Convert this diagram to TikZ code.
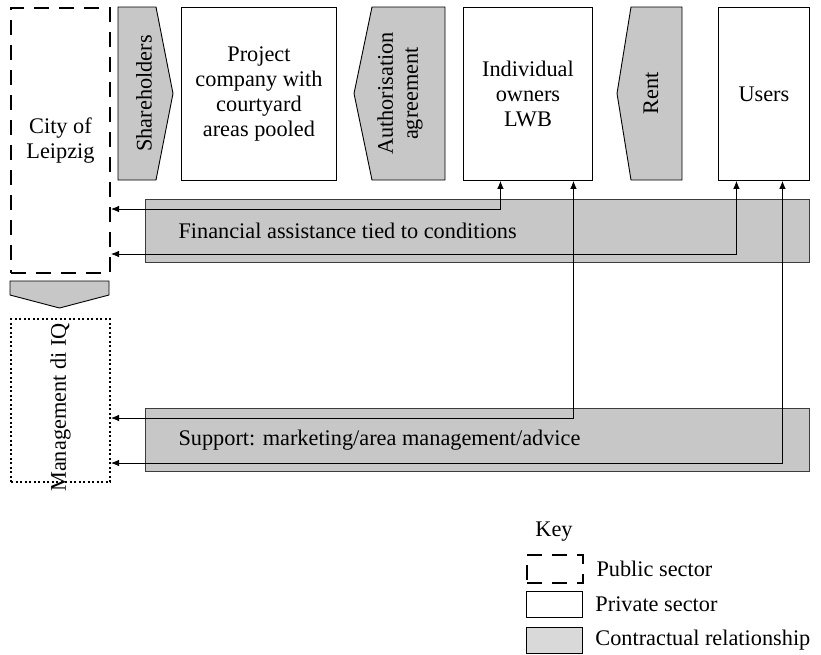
\documentclass[tikz,border=0pt]{standalone}
\usepackage{fontspec}
\setmainfont{Liberation Serif}
\usetikzlibrary{arrows.meta}
\definecolor{contractgray}{RGB}{198,199,198}
\definecolor{keygray}{RGB}{217,217,217}
\definecolor{bandline}{RGB}{60,60,60}
\tikzset{party/.style={draw,line width=.9pt,fill=white,minimum width=#1,minimum height=173pt,inner sep=0pt,align=center,anchor=north west},
  public/.style={draw,line width=2pt,dash pattern=on 15pt off 10pt,inner sep=0pt,align=center,anchor=north west},
  mgmt/.style={draw,line width=2pt,dash pattern=on 2pt off 2.5pt,inner sep=0pt,anchor=north west},
  band/.style={draw=bandline,line width=1.3pt,fill=contractgray,minimum width=664pt,minimum height=63pt,inner sep=0pt,anchor=north west},
  chev/.style={draw,line width=.9pt,fill=contractgray},
  conn/.style={{Latex[length=8pt,width=6.5pt]}-{Latex[length=8pt,width=6.5pt]},line width=.8pt}}

\begin{document}
\begin{tikzpicture}[x=1pt,y=-1pt,font=\fontsize{22.3}{25}\selectfont]
  \path[use as bounding box] (0,0) rectangle (821,654);
  \node[public,minimum width=99pt,minimum height=265pt] (city) at (10,7) {City of\\Leipzig};
  \draw[chev] (10,281) -- (109,281) -- (109,295) -- (59.5,308) -- (10,295) -- cycle;
  \node[mgmt,minimum width=99pt,minimum height=163pt] (iq) at (10,318) {};
  \node[rotate=90] (iqtext) at ([yshift=-7pt]iq.center) {Management di IQ};
  \draw[chev] (118,7) -- (156,7) -- (173,93.5) -- (156,180) -- (118,180) -- cycle;
  \node[rotate=90] (share) at (144,93.5) {Shareholders};
  \node[party=155pt] (proj) at (181,7) {Project\\company with\\courtyard\\areas pooled};
  \draw[chev] (372,7) -- (445,7) -- (445,180) -- (372,180) -- (354,93.5) -- cycle;
  \node[rotate=90,align=center] (auth) at (400,93.5) {Authorisation\\agreement};
  \node[party=129pt] (own) at (463,7) {Individual\\owners\\LWB};
  \draw[chev] (631,7) -- (682,7) -- (682,180) -- (631,180) -- (617,93.5) -- cycle;
  \node[rotate=90] (rent) at (651,93.5) {Rent};
  \node[party=91pt] (users) at (718,7) {Users};
  \node[band] (fin) at (145,199) {};
  \node[anchor=west] (fintext) at ([xshift=30pt]fin.west) {Financial assistance tied to conditions};
  \node[band] (supp) at (145,408) {};
  \node[anchor=west] (supptext) at ([xshift=30pt]supp.west) {Support: marketing/area management/advice};
  \draw[conn] ([xshift=-27.5pt]own.south) |- ([yshift=-68.5pt]city.east);
  \draw[conn] ([xshift=-27.5pt]users.south) |- ([yshift=-113.5pt]city.east);
  \draw[conn] ([xshift=45.5pt]own.south) |- ([yshift=-17.5pt]iq.east);
  \draw[conn] ([xshift=18.5pt]users.south) |- ([yshift=-62.5pt]iq.east);
  \node (key) at (554,532) {Key};
  \node[public,minimum width=56pt,minimum height=28pt] (keypub) at (526,554) {};
  \node[anchor=north west,draw,line width=.9pt,minimum width=56pt,minimum height=26pt] (keypriv) at (526,591) {};
  \node[anchor=north west,draw,line width=.9pt,fill=keygray,minimum width=56pt,minimum height=26pt] (keycon) at (526,627) {};
  \node[anchor=west] at ([xshift=9pt]keypub.east) {Public sector};
  \node[anchor=west] at ([xshift=9pt]keypriv.east) {Private sector};
  \node[anchor=west] at ([xshift=9pt]keycon.east) {Contractual relationship};
\end{tikzpicture}
\end{document}
